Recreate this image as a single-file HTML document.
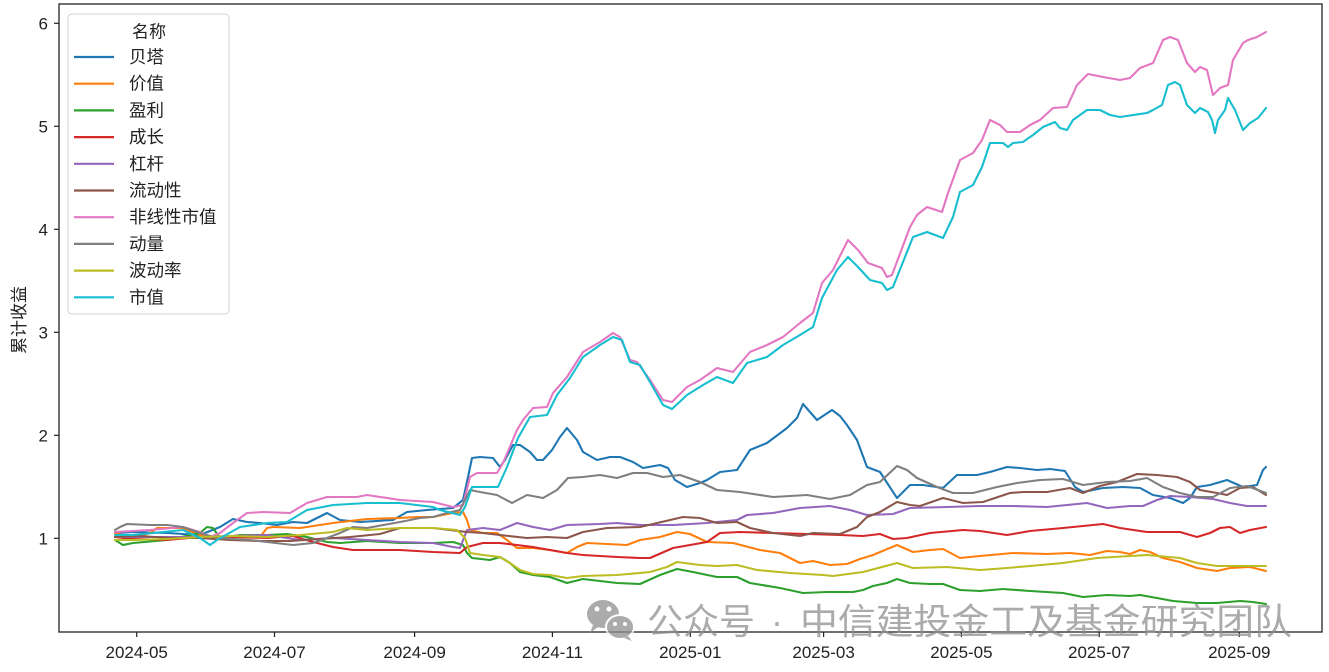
<!DOCTYPE html>
<html><head><meta charset="utf-8"><style>
html,body{margin:0;padding:0;background:#fff;}
svg{display:block;}
text{font-family:"Liberation Sans","Noto Sans CJK SC",sans-serif;}
</style></head><body>
<svg width="1329" height="672" viewBox="0 0 1329 672" xmlns="http://www.w3.org/2000/svg">
<rect width="1329" height="672" fill="#fff"/>
<defs><clipPath id="c"><rect x="59" y="4" width="1263" height="628"/></clipPath></defs>
<g clip-path="url(#c)" fill="none" stroke-width="2.1" stroke-linejoin="round" stroke-linecap="round">
<polyline stroke="#1f77b4" points="115,533 133,532 167,533 200,535 220,527 233,519 247,522 260,523 277,525 293,522 307,523 327,513 340,520 360,522 393,520 407,512 427,510 453,508 463,500 468,477 472,458 480,457 493,458 500,467 505,460 513,445 520,445 530,452 537,460 543,460 552,450 560,437 567,428 577,440 583,452 597,460 610,457 620,457 633,462 643,468 660,465 668,468 675,480 687,487 700,483 707,480 720,472 737,470 750,450 767,443 787,428 797,418 803,404 817,420 832,410 840,416 847,425 857,440 867,467 880,472 897,498 910,485 923,485 943,488 957,475 977,475 990,472 1007,467 1020,468 1037,470 1050,469 1065,471 1075,487 1083,492 1103,488 1123,487 1140,488 1153,495 1170,498 1183,503 1190,498 1197,487 1210,485 1227,480 1243,487 1257,485 1263,470 1266,467"/>
<polyline stroke="#ff7f0e" points="115,533 133,538 150,533 157,528 183,528 200,535 217,537 250,537 260,537 267,528 273,527 300,528 333,523 367,519 400,518 417,517 433,517 453,513 463,512 467,520 470,530 483,533 497,533 507,540 517,548 533,548 550,550 567,553 577,547 587,543 607,544 627,545 640,540 660,537 677,532 690,534 707,542 733,543 760,550 780,553 800,563 813,561 830,565 847,564 860,559 873,555 897,545 913,552 930,550 943,549 960,558 980,556 1013,553 1047,554 1070,553 1090,555 1107,551 1120,552 1130,554 1140,550 1150,552 1163,558 1180,562 1197,568 1217,571 1230,568 1250,567 1266,571"/>
<polyline stroke="#2ca02c" points="115,540 123,545 133,543 167,540 200,533 207,527 213,528 220,538 240,535 267,535 287,534 307,537 327,542 340,543 367,541 400,543 433,543 453,542 463,545 467,553 472,558 490,560 500,557 510,563 520,572 533,575 550,577 567,583 583,579 617,583 640,584 660,575 677,569 693,572 717,577 737,577 750,583 780,588 803,593 827,592 853,592 863,590 873,586 887,583 897,579 910,583 930,584 943,584 960,590 980,591 1003,589 1030,591 1063,593 1083,597 1107,595 1130,596 1140,595 1157,598 1173,601 1197,603 1217,603 1240,601 1253,602 1266,604"/>
<polyline stroke="#d62728" points="115,537 133,539 167,540 200,537 233,537 267,538 293,536 313,542 333,547 353,550 400,550 433,552 460,553 467,547 483,543 500,543 533,547 550,550 567,553 583,555 617,557 640,558 650,558 673,548 707,542 720,533 740,532 773,533 807,534 840,535 863,536 880,534 893,539 907,538 930,533 963,530 980,531 1007,535 1030,531 1063,528 1103,524 1120,528 1147,532 1180,532 1197,537 1210,533 1220,528 1230,527 1240,533 1250,530 1266,527"/>
<polyline stroke="#9467bd" points="115,537 200,537 267,535 300,540 333,538 367,540 400,542 433,543 453,547 460,548 467,530 483,528 500,530 517,523 533,527 550,530 567,525 600,524 617,523 640,525 673,525 707,523 737,520 747,515 773,513 800,508 830,506 850,510 867,515 893,514 910,508 947,507 980,506 1013,506 1047,507 1087,503 1107,508 1130,506 1143,506 1157,500 1170,496 1190,497 1213,499 1230,503 1247,506 1266,506"/>
<polyline stroke="#8c564b" points="115,537 140,536 170,538 200,538 230,540 260,541 290,541 320,539 350,537 380,534 400,528 433,528 467,532 483,533 500,535 527,538 547,537 567,538 583,532 607,528 640,527 683,517 700,518 717,523 737,522 750,528 773,533 800,536 813,533 840,534 857,527 867,517 880,512 897,502 910,505 920,506 943,498 963,503 983,502 1010,493 1023,492 1047,492 1070,488 1083,493 1100,486 1117,482 1137,474 1157,475 1177,477 1190,482 1200,490 1217,493 1227,495 1240,488 1253,487 1266,495"/>
<polyline stroke="#e377c2" points="115,532 133,531 150,530 183,527 200,532 210,537 220,533 233,523 247,513 263,512 290,513 307,503 327,497 357,497 367,495 400,500 433,502 453,507 463,505 470,477 477,473 497,473 503,463 517,430 523,420 533,408 547,407 553,393 567,377 583,352 600,342 613,333 620,337 630,360 637,362 650,380 663,400 672,402 687,387 700,380 717,368 733,372 750,352 767,345 783,337 800,323 813,313 822,283 833,270 848,240 858,250 868,263 882,268 887,277 892,275 910,227 917,215 927,207 942,212 948,193 960,160 973,153 982,140 990,120 1000,125 1007,132 1020,132 1030,125 1040,120 1053,108 1067,107 1077,85 1088,74 1103,77 1120,80 1130,78 1140,68 1153,63 1163,40 1170,37 1178,40 1187,63 1195,72 1200,67 1207,70 1213,95 1220,88 1228,85 1233,60 1243,43 1248,40 1257,37 1266,32"/>
<polyline stroke="#7f7f7f" points="115,530 120,527 127,524 150,525 167,525 183,527 200,533 217,538 250,540 267,542 293,545 313,543 327,538 340,533 353,527 367,528 400,522 420,518 433,517 447,513 460,510 465,500 470,490 480,492 497,495 512,503 527,495 543,498 557,490 568,478 583,477 600,475 617,478 633,473 647,473 663,477 680,475 700,482 717,490 740,492 773,497 807,495 830,499 850,495 867,485 880,482 897,466 907,470 917,478 937,487 953,493 973,493 997,487 1017,483 1040,480 1063,479 1083,485 1107,482 1130,481 1147,478 1163,487 1180,493 1197,497 1213,497 1230,488 1247,486 1266,493"/>
<polyline stroke="#bcbd22" points="115,540 133,540 167,539 200,537 233,536 267,537 300,535 333,532 347,528 367,530 400,528 433,528 457,530 465,538 470,553 483,555 500,557 510,563 520,570 533,574 550,575 567,578 583,576 617,575 640,573 650,572 667,567 677,562 700,565 717,566 737,565 757,570 790,573 823,575 833,576 863,572 897,563 913,568 947,567 980,570 1007,568 1030,566 1063,563 1097,558 1130,556 1147,555 1180,558 1197,563 1217,566 1266,566"/>
<polyline stroke="#17becf" points="115,535 133,535 183,530 200,538 210,545 217,540 240,527 267,523 287,522 307,510 333,505 367,503 400,503 433,507 440,510 460,515 465,507 472,487 498,487 507,467 518,438 530,417 547,415 557,395 570,378 583,357 600,345 613,337 622,340 630,362 640,365 650,382 663,405 672,409 687,395 703,385 717,377 733,383 747,363 767,357 783,345 800,335 813,327 822,298 837,270 848,257 858,267 870,280 882,283 887,290 893,287 913,237 927,232 943,238 953,217 960,192 973,185 982,167 990,143 1003,143 1008,147 1013,143 1023,142 1033,135 1043,127 1055,122 1060,128 1067,130 1073,120 1087,110 1100,110 1110,115 1120,117 1147,113 1153,110 1162,105 1168,85 1175,82 1180,85 1187,105 1195,113 1200,108 1208,112 1212,120 1215,133 1218,120 1225,110 1228,98 1235,110 1243,130 1250,123 1258,118 1266,108"/>
</g>
<rect x="59" y="4" width="1263" height="628" fill="none" stroke="#222" stroke-width="1.3"/>
<g stroke="#222" stroke-width="1.2">
<line x1="54" y1="538.3" x2="59" y2="538.3"/><line x1="54" y1="435.3" x2="59" y2="435.3"/><line x1="54" y1="332.3" x2="59" y2="332.3"/><line x1="54" y1="229.3" x2="59" y2="229.3"/><line x1="54" y1="126.3" x2="59" y2="126.3"/><line x1="54" y1="23.3" x2="59" y2="23.3"/>
<line x1="136.7" y1="632" x2="136.7" y2="637"/><line x1="274.5" y1="632" x2="274.5" y2="637"/><line x1="414.6" y1="632" x2="414.6" y2="637"/><line x1="552.4" y1="632" x2="552.4" y2="637"/><line x1="690.3" y1="632" x2="690.3" y2="637"/><line x1="823.6" y1="632" x2="823.6" y2="637"/><line x1="961.4" y1="632" x2="961.4" y2="637"/><line x1="1099.2" y1="632" x2="1099.2" y2="637"/><line x1="1239.3" y1="632" x2="1239.3" y2="637"/>
</g>
<g font-size="17" fill="#222" text-anchor="end">
<text x="48" y="544.5">1</text><text x="48" y="441.5">2</text><text x="48" y="338.5">3</text><text x="48" y="235.5">4</text><text x="48" y="132.5">5</text><text x="48" y="29.5">6</text>
</g>
<g font-size="17" fill="#222" text-anchor="middle">
<text x="136.7" y="658">2024-05</text><text x="274.5" y="658">2024-07</text><text x="414.6" y="658">2024-09</text><text x="552.4" y="658">2024-11</text><text x="690.3" y="658">2025-01</text><text x="823.6" y="658">2025-03</text><text x="961.4" y="658">2025-05</text><text x="1099.2" y="658">2025-07</text><text x="1239.3" y="658">2025-09</text>
</g>
<text x="0" y="0" font-size="17" fill="#222" text-anchor="middle" transform="translate(25,320) rotate(-90)">累计收益</text>
<g>
<rect x="68" y="14" width="161" height="300" rx="4" fill="#fff" fill-opacity="0.85" stroke="#d0d0d0" stroke-width="1"/>
<text x="149" y="37.5" font-size="17" fill="#222" text-anchor="middle">名称</text>
<g stroke-width="2.2">
<line x1="74" y1="57" x2="114" y2="57" stroke="#1f77b4"/>
<line x1="74" y1="83.7" x2="114" y2="83.7" stroke="#ff7f0e"/>
<line x1="74" y1="110.4" x2="114" y2="110.4" stroke="#2ca02c"/>
<line x1="74" y1="137.1" x2="114" y2="137.1" stroke="#d62728"/>
<line x1="74" y1="163.8" x2="114" y2="163.8" stroke="#9467bd"/>
<line x1="74" y1="190.5" x2="114" y2="190.5" stroke="#8c564b"/>
<line x1="74" y1="217.2" x2="114" y2="217.2" stroke="#e377c2"/>
<line x1="74" y1="243.9" x2="114" y2="243.9" stroke="#7f7f7f"/>
<line x1="74" y1="270.6" x2="114" y2="270.6" stroke="#bcbd22"/>
<line x1="74" y1="297.3" x2="114" y2="297.3" stroke="#17becf"/>
</g>
<g font-size="17.5" fill="#222">
<text x="129" y="63">贝塔</text>
<text x="129" y="89.7">价值</text>
<text x="129" y="116.4">盈利</text>
<text x="129" y="143.1">成长</text>
<text x="129" y="169.8">杠杆</text>
<text x="129" y="196.5">流动性</text>
<text x="129" y="223.2">非线性市值</text>
<text x="129" y="249.9">动量</text>
<text x="129" y="276.6">波动率</text>
<text x="129" y="303.3">市值</text>
</g>
</g>
<g opacity="0.75">
<ellipse cx="603" cy="614" rx="16" ry="14" fill="#8f8f8f"/>
<path d="M593,625 L590,633 L598,627 Z" fill="#8f8f8f"/>
<ellipse cx="620" cy="627" rx="14" ry="12" fill="#8f8f8f" stroke="#fff" stroke-width="2"/>
<path d="M628,636 L632,641 L624,638 Z" fill="#8f8f8f"/>
<circle cx="597" cy="609" r="2.5" fill="#fff"/><circle cx="609" cy="609" r="2.5" fill="#fff"/>
<circle cx="615" cy="624" r="2" fill="#fff"/><circle cx="625" cy="624" r="2" fill="#fff"/>
<g font-size="36" fill="#8f8f8f" font-family="'Noto Sans CJK SC',sans-serif">
<text x="647" y="634" textLength="108" lengthAdjust="spacingAndGlyphs">公众号</text>
<text x="771" y="634">·</text>
<text x="800" y="634" textLength="492" lengthAdjust="spacingAndGlyphs">中信建投金工及基金研究团队</text>
</g>
</g>
</svg>
</body></html>
